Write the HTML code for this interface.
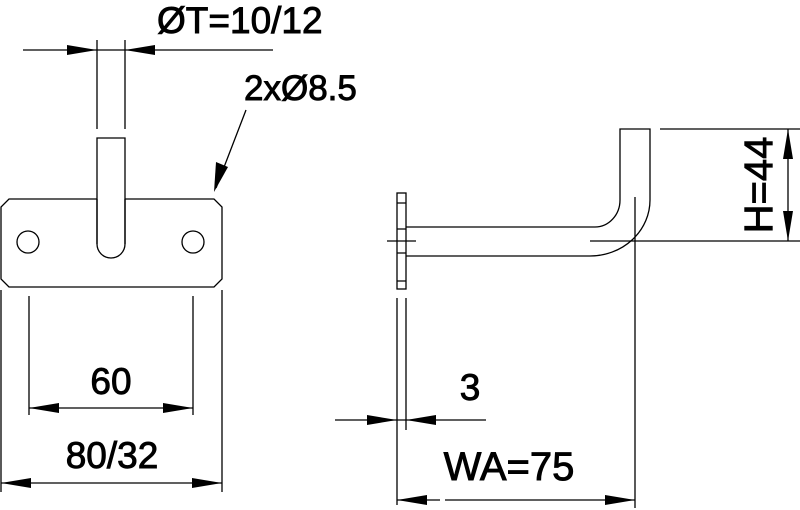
<!DOCTYPE html>
<html><head><meta charset="utf-8"><style>
html,body{margin:0;padding:0;background:#fff;}
svg{display:block;}
text{font-family:"Liberation Sans",sans-serif;fill:#000;stroke:#000;stroke-width:0.9;}
</style></head><body>
<svg width="800" height="510" viewBox="0 0 800 510" xmlns="http://www.w3.org/2000/svg">
<g stroke="#000" stroke-width="1.3" fill="none">
<path d="M9,199 L214,199 L222,207 L222,279 L214,287 L9,287 L1,279 L1,207 Z" fill="#fff"/>
<circle cx="28" cy="242" r="11"/>
<circle cx="193" cy="242" r="11"/>
<path d="M97,199 L97,138 L125,138 L125,244 A14,14 0 0 1 97,244 Z" fill="#fff"/>
<path d="M97,199 L97,244 M125,199 L125,244"/>
<path d="M97,40 L97,129 M125,40 L125,129"/>
<path d="M23,50 L273,50"/>
<path d="M246,110 L216,188"/>
<path d="M29,296 L29,415 M193,296 L193,415 M1,290 L1,492 M222,290 L222,492"/>
<path d="M29,408 L193,408 M1,483 L222,483"/>
<rect x="397" y="193" width="9" height="96" fill="#fff"/>
<path d="M397,203 L406,203 M397,229 L406,229 M397,253 L406,253 M397,281 L406,281"/>
<path d="M406,227 L595,227 A25,27 0 0 0 620,200 L620,129 L650,129 L650,200 A60,56 0 0 1 590,256 L406,256"/>
<path d="M387,241 L416,241 M590,241 L800,241"/>
<path d="M635,197 L635,508"/>
<path d="M660,129 L800,129 M788,129 L788,241"/>
<path d="M397,298 L397,505 M406,298 L406,430"/>
<path d="M335,420 L486,420"/>
<path d="M397,500 L440,500 M445,500 L635,500"/>
</g>
<g fill="#000" stroke="none">
<polygon points="97,50 67,45 67,55"/>
<polygon points="125,50 155,45 155,55"/>
<polygon points="214,192 216,162 228,167"/>
<polygon points="29,408 59,403 59,413"/>
<polygon points="193,408 163,403 163,413"/>
<polygon points="1,483 31,478 31,488"/>
<polygon points="222,483 192,478 192,488"/>
<polygon points="397,420 367,415 367,425"/>
<polygon points="406,420 436,415 436,425"/>
<polygon points="397,500 427,495 427,505"/>
<polygon points="635,500 605,495 605,505"/>
<polygon points="788,129 783,159 793,159"/>
<polygon points="788,241 783,211 793,211"/>
</g>
<text x="157" y="33" font-size="37">ØT=10/12</text>
<text x="244" y="100" font-size="35">2xØ8.5</text>
<text x="111" y="394" font-size="37" text-anchor="middle">60</text>
<text x="112" y="468" font-size="37" text-anchor="middle">80/32</text>
<text x="470" y="400" font-size="37" text-anchor="middle">3</text>
<text x="509" y="480" font-size="40" text-anchor="middle">WA=75</text>
<text x="0" y="0" font-size="40" text-anchor="middle" transform="translate(772,185) rotate(-90)">H=44</text>
</svg>
</body></html>
